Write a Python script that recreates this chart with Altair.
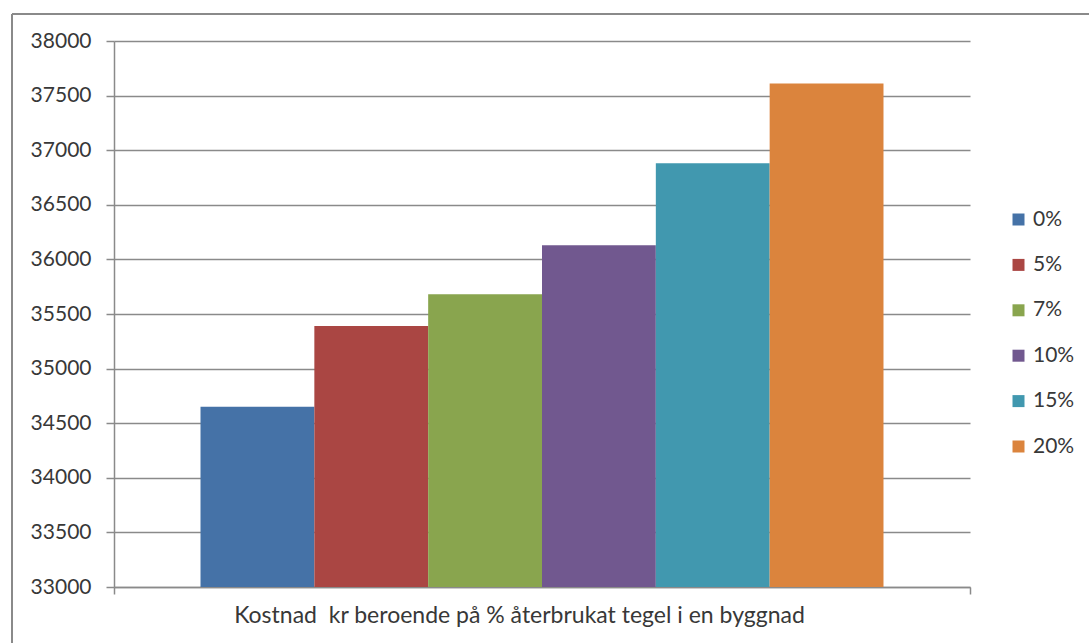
import altair as alt
import pandas as pd

# Series names, costs (kr) and bar colours
series = ["0%", "5%", "7%", "10%", "15%", "20%"]
costs = [34650, 35390, 35680, 36130, 36880, 37610]
colors = ["#4572A7", "#AA4643", "#89A54E", "#71588F", "#4198AF", "#DB843D"]
category = "Kostnad\u00a0 kr beroende på % återbrukat tegel i en byggnad"
y_ticks = [33000, 33500, 34000, 34500, 35000, 35500, 36000, 36500, 37000, 37500, 38000]
y_min, y_max = 33000, 38000

df = pd.DataFrame({
    "kategori": [category] * len(series),
    "andel": series,
    "kostnad": costs,
    "bas": [y_min] * len(series),
})

FONT = "Lato"
TEXT = "#383838"
GRID = "#8a8a8a"

bars = alt.Chart(df).mark_bar(stroke=None).encode(
    x=alt.X(
        "kategori:N",
        title=None,
        scale=alt.Scale(paddingInner=0, paddingOuter=0),
        axis=alt.Axis(
            tickBand="extent",
            grid=False,
            domainColor=GRID,
            domainWidth=1.5,
            tickColor=GRID,
            tickWidth=1.5,
            tickSize=7,
            labelAngle=0,
            labelFont=FONT,
            labelFontSize=23,
            labelColor=TEXT,
            labelLimit=0,
            labelPadding=10,
            labelOffset=-23,
        ),
    ),
    xOffset=alt.XOffset(
        "andel:N",
        sort=series,
        scale=alt.Scale(paddingInner=0, paddingOuter=0.76),
    ),
    y=alt.Y(
        "kostnad:Q",
        title=None,
        scale=alt.Scale(domain=[y_min, y_max], zero=False, nice=False),
        axis=alt.Axis(
            values=y_ticks,
            format="d",
            grid=True,
            gridColor=GRID,
            gridWidth=1.5,
            domainColor=GRID,
            domainWidth=1.5,
            tickColor=GRID,
            tickWidth=1.5,
            tickSize=8,
            labelFont=FONT,
            labelFontSize=21,
            labelColor=TEXT,
            labelPadding=15,
        ),
    ),
    y2="bas:Q",
    color=alt.Color(
        "andel:N",
        sort=series,
        scale=alt.Scale(domain=series, range=colors),
        legend=alt.Legend(
            title=None,
            orient="none",
            legendX=894,
            legendY=168,
            padding=0,
            symbolType="square",
            symbolSize=144,
            symbolStrokeWidth=0,
            symbolOpacity=1,
            labelFont=FONT,
            labelFontSize=21,
            labelColor=TEXT,
            labelOffset=4,
            rowPadding=23.4,
        ),
    ),
)

# Chart frame (left and top edges)
frame_left = alt.Chart(df).mark_rule(color="#8a8a8a", strokeWidth=2).encode(
    x=alt.value(-102), y=alt.value(-27), y2=alt.value(620)
)
frame_top = alt.Chart(df).mark_rule(color="#8a8a8a", strokeWidth=2).encode(
    x=alt.value(-102), x2=alt.value(980), y=alt.value(-27)
)

chart = alt.layer(frame_left, frame_top, bars).properties(
    width=856,
    height=546,
    autosize=alt.AutoSizeParams(type="none"),
    padding={"left": 114, "top": 41, "right": 119, "bottom": 56},
    background="white",
).configure_view(stroke=None)

chart.save("out.html", embed_options={"renderer": "svg", "actions": False})
